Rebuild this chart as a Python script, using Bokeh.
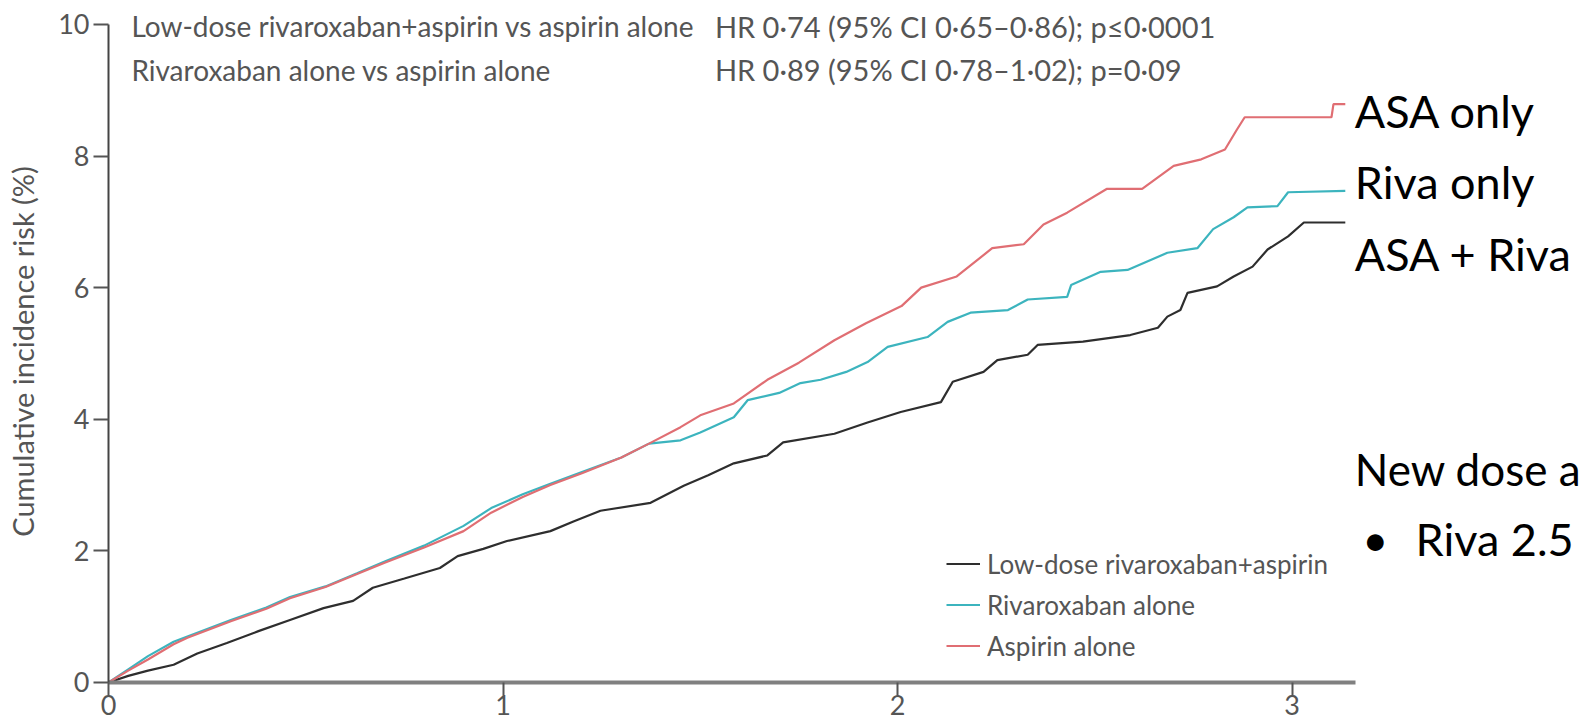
import math
from bokeh.plotting import figure
from bokeh.models import Range1d, FixedTicker, Legend, LegendItem
from bokeh.core.properties import value
from bokeh.embed import file_html
from bokeh.resources import INLINE

FONT = "Lato"
GRAY = "#555555"

# ---- data (years, cumulative incidence %) ----
years_combo = [0, 0.05, 0.1, 0.165, 0.225, 0.3, 0.38, 0.46, 0.545, 0.62,
               0.67, 0.75, 0.84, 0.885, 0.95, 1.01, 1.12, 1.18, 1.247, 1.374,
               1.458, 1.52, 1.585, 1.67, 1.71, 1.84, 1.924, 2.008, 2.11, 2.14,
               2.218, 2.253, 2.33, 2.355, 2.47, 2.59, 2.66, 2.684, 2.717, 2.735,
               2.81, 2.852, 2.9, 2.938, 2.99, 3.03, 3.135]
risk_combo = [0, 0.1, 0.18, 0.27, 0.44, 0.6, 0.78, 0.95, 1.13, 1.24,
              1.44, 1.58, 1.74, 1.92, 2.03, 2.15, 2.3, 2.45, 2.61, 2.73,
              2.99, 3.15, 3.33, 3.45, 3.65, 3.78, 3.95, 4.11, 4.26, 4.57,
              4.72, 4.9, 4.98, 5.13, 5.18, 5.28, 5.39, 5.56, 5.66, 5.92,
              6.02, 6.17, 6.32, 6.58, 6.78, 6.99, 6.99]

years_riva = [0, 0.05, 0.1, 0.165, 0.2, 0.31, 0.4, 0.46, 0.55, 0.63,
              0.7, 0.8, 0.9, 0.97, 1.05, 1.12, 1.2, 1.3, 1.37, 1.45,
              1.5, 1.585, 1.62, 1.7, 1.754, 1.805, 1.87, 1.924, 1.975, 2.076,
              2.127, 2.185, 2.28, 2.33, 2.43, 2.44, 2.515, 2.583, 2.684, 2.76,
              2.80, 2.852, 2.887, 2.963, 2.99, 3.135]
risk_riva = [0, 0.2, 0.4, 0.62, 0.7, 0.95, 1.14, 1.3, 1.46, 1.66,
             1.84, 2.08, 2.38, 2.65, 2.86, 3.02, 3.2, 3.42, 3.63, 3.68,
             3.8, 4.03, 4.29, 4.4, 4.55, 4.6, 4.72, 4.87, 5.1, 5.25,
             5.48, 5.62, 5.66, 5.82, 5.86, 6.04, 6.24, 6.27, 6.53, 6.6,
             6.89, 7.07, 7.22, 7.24, 7.45, 7.47]

years_asa = [0, 0.05, 0.1, 0.165, 0.2, 0.31, 0.4, 0.46, 0.55, 0.63,
             0.7, 0.8, 0.9, 0.97, 1.05, 1.12, 1.2, 1.3, 1.37, 1.45,
             1.5, 1.585, 1.67, 1.75, 1.84, 1.92, 2.01, 2.06, 2.15, 2.24,
             2.32, 2.37, 2.43, 2.53, 2.62, 2.70, 2.77, 2.83, 2.86, 2.88,
             3.10, 3.105, 3.135]
risk_asa = [0, 0.18, 0.35, 0.58, 0.68, 0.93, 1.12, 1.28, 1.45, 1.65,
            1.82, 2.05, 2.3, 2.58, 2.82, 3.0, 3.18, 3.42, 3.63, 3.88,
            4.06, 4.24, 4.6, 4.86, 5.2, 5.46, 5.72, 6.0, 6.17, 6.6,
            6.66, 6.96, 7.14, 7.5, 7.5, 7.85, 7.95, 8.1, 8.4, 8.59,
            8.59, 8.79, 8.79]

series_labels = ["Low-dose rivaroxaban+aspirin", "Rivaroxaban alone", "Aspirin alone"]
series_colors = ["#2e2e2e", "#3cb4be", "#e06e73"]

x_ticks = [0, 1, 2, 3]
y_ticks = [0, 2, 4, 6, 8, 10]
y_axis_title = "Cumulative incidence risk (%)"

stats_left = ["Low-dose rivaroxaban+aspirin vs aspirin alone",
              "Rivaroxaban alone vs aspirin alone"]
stats_right = ["HR 0·74 (95% CI 0·65–0·86); p≤0·0001",
               "HR 0·89 (95% CI 0·78–1·02); p=0·09"]

side_notes = ["ASA only", "Riva only", "ASA + Riva"]
dose_note = "New dose a"
bullet_note = "Riva 2.5"

# ---- figure ----
p = figure(width=1589, height=726, output_backend="svg", toolbar_location=None,
           x_range=Range1d(-0.2738, 3.754), y_range=Range1d(-0.669, 10.364),
           min_border_left=0, min_border_right=0, min_border_top=0, min_border_bottom=0)
p.outline_line_color = None
p.grid.visible = False

for ax, ticks, bounds, lw, lc, so, tl in ((p.xaxis[0], x_ticks, (0, 3.16), 4, "#808080", 0, 13),
                                          (p.yaxis[0], y_ticks, (0, 10), 2, "#444444", 4, 15)):
    ax.fixed_location = 0
    ax.ticker = FixedTicker(ticks=ticks)
    ax.bounds = bounds
    ax.axis_line_color = lc
    ax.axis_line_width = lw
    ax.major_tick_line_color = "#555555"
    ax.major_tick_line_width = 2
    ax.major_tick_out = tl
    ax.major_tick_in = 0
    ax.minor_tick_line_color = None
    ax.major_label_text_font = FONT
    ax.major_label_text_font_size = "27px"
    ax.major_label_text_color = GRAY
    ax.major_label_standoff = so

# curves
srcs = [(years_combo, risk_combo), (years_riva, risk_riva), (years_asa, risk_asa)]
renderers = []
for (xs, ys), col in zip(srcs, series_colors):
    r = p.line(xs, ys, line_color=col, line_width=2.2)
    renderers.append(r)

legend = Legend(items=[LegendItem(label=l, renderers=[r]) for l, r in zip(series_labels, renderers)],
                location=(946, 60), padding=0, margin=0, spacing=0,
                glyph_width=34, glyph_height=41, label_height=41, label_standoff=7,
                label_text_font=FONT, label_text_font_size="26px", label_text_color=GRAY,
                label_text_baseline="middle",
                background_fill_alpha=0, border_line_color=None)
p.add_layout(legend)

# y axis title
p.text(x=[-0.219], y=[5.03], text=[y_axis_title], angle=math.pi / 2,
       text_font=value(FONT), text_font_size="29px", text_color=GRAY,
       text_align="center", text_baseline="middle")

# stats annotation
p.text(x=[0.058, 0.058], y=[9.975, 9.315], text=stats_left,
       text_font=value(FONT), text_font_size="28px", text_color=GRAY,
       text_align="left", text_baseline="middle")
p.text(x=[1.537, 1.537], y=[9.975, 9.315], text=stats_right,
       text_font=value(FONT), text_font_size="29px", text_color=GRAY,
       text_align="left", text_baseline="middle")

# side notes
p.text(x=[3.159] * 3, y=[8.69, 7.61, 6.51], text=side_notes,
       text_font=value(FONT), text_font_size="45px", text_color="black",
       text_align="left", text_baseline="middle")
p.text(x=[3.159], y=[3.24], text=[dose_note],
       text_font=value(FONT), text_font_size="44px", text_color="black",
       text_align="left", text_baseline="middle")
p.text(x=[3.178], y=[2.18], text=["•"],
       text_font=value(FONT), text_font_size="45px", text_color="black",
       text_align="left", text_baseline="middle")
p.text(x=[3.313], y=[2.18], text=[bullet_note],
       text_font=value(FONT), text_font_size="45px", text_color="black",
       text_align="left", text_baseline="middle")

open("out.html", "w").write(file_html(p, INLINE))
